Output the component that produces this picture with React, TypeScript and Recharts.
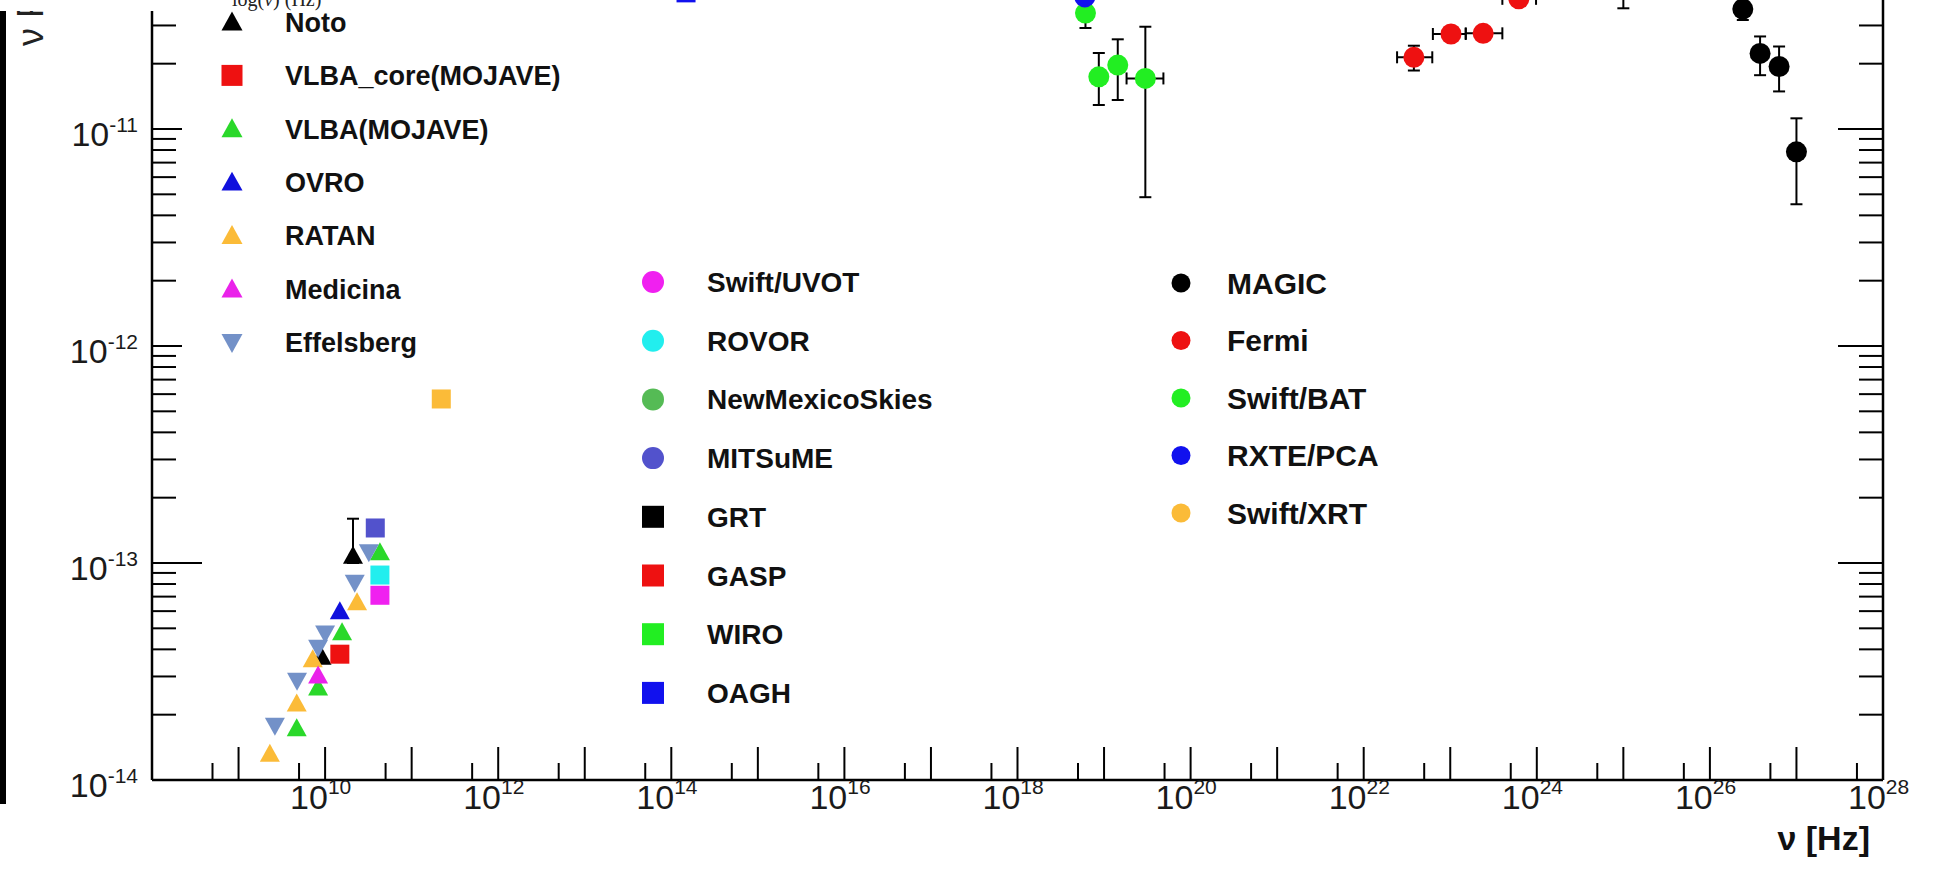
import React from 'react';
import { ScatterChart, Scatter, XAxis, YAxis, ErrorBar } from 'recharts';

// nu in Hz, f = nu F(nu); fLo/fHi and nuLo/nuHi are the error bar ends
const notoPoints = [
  { nu: 9.1e9, f: 3.7e-14 },
  { nu: 2.1e10, f: 1.08e-13, fLo: 1.0e-13, fHi: 1.6e-13 },
];
const vlbaCorePoints = [{ nu: 1.48e10, f: 3.8e-14 }];
const vlbaPoints = [
  { nu: 4.7e9, f: 1.73e-14 },
  { nu: 8.3e9, f: 2.67e-14 },
  { nu: 1.57e10, f: 4.8e-14 },
  { nu: 4.3e10, f: 1.12e-13 },
];
const ovroPoints = [{ nu: 1.48e10, f: 6.0e-14 }];
const ratanPoints = [
  { nu: 2.3e9, f: 1.32e-14 },
  { nu: 4.7e9, f: 2.25e-14 },
  { nu: 7.2e9, f: 3.6e-14 },
  { nu: 2.34e10, f: 6.6e-14 },
];
const medicinaPoints = [{ nu: 8.3e9, f: 3.03e-14 }];
const effelsbergPoints = [
  { nu: 2.63e9, f: 1.78e-14 },
  { nu: 4.74e9, f: 2.87e-14 },
  { nu: 8.3e9, f: 4.07e-14 },
  { nu: 1.0e10, f: 4.73e-14 },
  { nu: 2.2e10, f: 8.1e-14 },
  { nu: 3.2e10, f: 1.12e-13 },
];
const uvotPoints = [{ nu: 4.3e10, f: 7.1e-14 }];
const rovorPoints = [{ nu: 4.3e10, f: 8.8e-14 }];
const nmsPoints: any[] = [];
const mitsumePoints = [{ nu: 3.8e10, f: 1.45e-13 }];
const grtPoints: any[] = [];
const gaspPoints: any[] = [];
const wiroPoints: any[] = [];
const oaghPoints = [{ nu: 1.48e14, f: 4.24e-11 }];
const magicPoints = [
  { nu: 2.4e26, f: 3.57e-11, fLo: 3.18e-11, fHi: 4.0e-11 },
  { nu: 3.8e26, f: 2.23e-11, fLo: 1.77e-11, fHi: 2.67e-11 },
  { nu: 6.3e26, f: 1.94e-11, fLo: 1.49e-11, fHi: 2.4e-11 },
  { nu: 1.0e27, f: 7.85e-12, fLo: 4.5e-12, fHi: 1.12e-11 },
];
const fermiPoints = [
  { nu: 3.8e22, f: 2.14e-11, fLo: 1.86e-11, fHi: 2.42e-11, nuLo: 2.43e22, nuHi: 6.2e22 },
  { nu: 1.02e23, f: 2.74e-11, fLo: 2.62e-11, fHi: 2.86e-11, nuLo: 6.3e22, nuHi: 1.51e23 },
  { nu: 2.4e23, f: 2.76e-11, fLo: 2.64e-11, fHi: 2.88e-11, nuLo: 1.51e23, nuHi: 4.0e23 },
  { nu: 6.2e23, f: 3.98e-11, fLo: 3.7e-11, fHi: 4.3e-11, nuLo: 4.0e23, nuHi: 9.8e23 },
  { nu: 1.0e25, f: 5.6e-11, fLo: 3.6e-11, fHi: 8.0e-11 },
];
const batPoints = [
  { nu: 6.1e18, f: 3.42e-11, fLo: 2.92e-11, fHi: 4.0e-11 },
  { nu: 8.7e18, f: 1.74e-11, fLo: 1.29e-11, fHi: 2.24e-11 },
  { nu: 1.44e19, f: 1.97e-11, fLo: 1.36e-11, fHi: 2.59e-11 },
  { nu: 3.0e19, f: 1.71e-11, fLo: 4.85e-12, fHi: 2.96e-11, nuLo: 1.82e19, nuHi: 4.85e19 },
];
const rxtePoints = [{ nu: 6.0e18, f: 4.06e-11 }];
const xrtPoints = [{ nu: 2.2e11, f: 5.7e-13 }];

// axes
const xDecades = [1e8, 1e9, 1e10, 1e11, 1e12, 1e13, 1e14, 1e15, 1e16, 1e17, 1e18, 1e19, 1e20, 1e21, 1e22, 1e23, 1e24, 1e25, 1e26, 1e27, 1e28];
const xLabelExps = [10, 12, 14, 16, 18, 20, 22, 24, 26, 28];
const yDecades = [1e-14, 1e-13, 1e-12, 1e-11, 1e-10];
const yLabelExps = [-14, -13, -12, -11];

const xTicks = [...xDecades, ...xDecades.slice(0, -1).map((d) => 5 * d)];
const yTicks = [
  ...yDecades,
  ...yDecades.slice(0, -1).flatMap((d) => [2, 3, 4, 5, 6, 7, 8, 9].map((m) => m * d)),
];

type Kind = 'tri' | 'triDown' | 'square' | 'circle';

const series: { name: string; data: any[]; color: string; kind: Kind; dataKind?: Kind }[] = [
  { name: 'Noto', data: notoPoints, color: '#000000', kind: 'tri' },
  { name: 'VLBA_core(MOJAVE)', data: vlbaCorePoints, color: '#ee1111', kind: 'square' },
  { name: 'VLBA(MOJAVE)', data: vlbaPoints, color: '#2ad82a', kind: 'tri' },
  { name: 'OVRO', data: ovroPoints, color: '#1010dd', kind: 'tri' },
  { name: 'RATAN', data: ratanPoints, color: '#fbbb38', kind: 'tri' },
  { name: 'Medicina', data: medicinaPoints, color: '#ea22ea', kind: 'tri' },
  { name: 'Effelsberg', data: effelsbergPoints, color: '#7391c8', kind: 'triDown' },
  { name: 'Swift/UVOT', data: uvotPoints, color: '#f020f0', kind: 'circle', dataKind: 'square' },
  { name: 'ROVOR', data: rovorPoints, color: '#22eeee', kind: 'circle', dataKind: 'square' },
  { name: 'NewMexicoSkies', data: nmsPoints, color: '#55bb55', kind: 'circle' },
  { name: 'MITSuME', data: mitsumePoints, color: '#5252cc', kind: 'circle', dataKind: 'square' },
  { name: 'GRT', data: grtPoints, color: '#000000', kind: 'square' },
  { name: 'GASP', data: gaspPoints, color: '#ee1111', kind: 'square' },
  { name: 'WIRO', data: wiroPoints, color: '#22ee22', kind: 'square' },
  { name: 'OAGH', data: oaghPoints, color: '#1111ee', kind: 'square' },
  { name: 'MAGIC', data: magicPoints, color: '#000000', kind: 'circle' },
  { name: 'Fermi', data: fermiPoints, color: '#ee1111', kind: 'circle' },
  { name: 'Swift/BAT', data: batPoints, color: '#22ee22', kind: 'circle' },
  { name: 'RXTE/PCA', data: rxtePoints, color: '#1111ee', kind: 'circle' },
  { name: 'Swift/XRT', data: xrtPoints, color: '#fbbb38', kind: 'circle', dataKind: 'square' },
];

const legendBlocks = [
  { from: 0, to: 7, mx: 232, tx: 285, y0: 22, dy: 53.4, font: 27, size: 21 },
  { from: 7, to: 15, mx: 653, tx: 707, y0: 282, dy: 58.7, font: 28, size: 22 },
  { from: 15, to: 20, mx: 1181, tx: 1227, y0: 283, dy: 57.5, font: 30, size: 19 },
];

const FONT = '"Liberation Sans", Arial, Helvetica, sans-serif';

const toRows = (pts: any[]) =>
  pts.map((p) => ({
    nu: p.nu,
    f: p.f,
    ey: p.fLo !== undefined ? [p.f - p.fLo, p.fHi - p.f] : undefined,
    ex: p.nuLo !== undefined ? [p.nu - p.nuLo, p.nuHi - p.nu] : undefined,
  }));

const isDecade = (v: number) => {
  const l = Math.log10(v);
  return Math.abs(l - Math.round(l)) < 1e-6;
};

const Marker = ({ kind, cx, cy, color, s }: { kind: Kind; cx: number; cy: number; color: string; s: number }) => {
  const h = s / 2;
  if (kind === 'circle') return <circle cx={cx} cy={cy} r={h} fill={color} />;
  if (kind === 'square') return <rect x={cx - h} y={cy - h} width={s} height={s} fill={color} />;
  if (kind === 'tri')
    return <polygon points={`${cx},${cy - h} ${cx - h},${cy + h * 0.8} ${cx + h},${cy + h * 0.8}`} fill={color} />;
  return <polygon points={`${cx},${cy + h} ${cx - h},${cy - h * 0.8} ${cx + h},${cy - h * 0.8}`} fill={color} />;
};

const dataSize = (k: Kind) => (k === 'circle' ? 21 : k === 'square' ? 19 : 20);

const XTick = (props: any) => {
  const { x, y, payload } = props;
  const v = payload.value;
  const major = isDecade(v);
  const e = Math.round(Math.log10(v));
  return (
    <g>
      <line x1={x} y1={y} x2={x} y2={y - (major ? 33 : 17)} stroke="#000" strokeWidth={2} />
      {major && xLabelExps.includes(e) && (
        <text x={x - 35} y={y + 29} fontSize={34} fontFamily={FONT} fill="#1a1a1a">
          10
          <tspan fontSize={21} dy={-15}>
            {e}
          </tspan>
        </text>
      )}
    </g>
  );
};

const YTickLeft = (props: any) => {
  const { x, y, payload } = props;
  const v = payload.value;
  const major = isDecade(v);
  const e = Math.round(Math.log10(v));
  const len = major ? (e === -13 ? 50 : 30) : 24;
  return (
    <g>
      <line x1={x} y1={y} x2={x + len} y2={y} stroke="#000" strokeWidth={2} />
      {major && yLabelExps.includes(e) && (
        <text x={x - 14} y={y + 17} textAnchor="end" fontSize={34} fontFamily={FONT} fill="#1a1a1a">
          10
          <tspan fontSize={21} dy={-14}>
            {e}
          </tspan>
        </text>
      )}
    </g>
  );
};

const YTickRight = (props: any) => {
  const { x, y, payload } = props;
  const len = isDecade(payload.value) ? 45 : 24;
  return <line x1={x} y1={y} x2={x - len} y2={y} stroke="#000" strokeWidth={2} />;
};

const App = () => {
  return (
    <div style={{ position: 'absolute', left: 0, top: 0, width: 1939, height: 881, overflow: 'hidden', background: '#fff' }}>
      <div style={{ position: 'absolute', left: 0, top: -88 }}>
        <ScatterChart width={1939} height={969} margin={{ top: 0, right: 0, bottom: 0, left: 0 }}>
          <XAxis
            type="number"
            dataKey="nu"
            scale="log"
            domain={[1e8, 1e28]}
            allowDataOverflow
            ticks={xTicks}
            interval={0}
            tick={(p: any) => <XTick {...p} />}
            tickLine={false}
            tickSize={0}
            tickMargin={0}
            height={101}
            axisLine={{ stroke: '#000', strokeWidth: 2.5 }}
          />
          <YAxis
            yAxisId="l"
            type="number"
            dataKey="f"
            scale="log"
            domain={[1e-14, 1e-10]}
            allowDataOverflow
            ticks={yTicks}
            interval={0}
            tick={(p: any) => <YTickLeft {...p} />}
            tickLine={false}
            tickSize={0}
            tickMargin={0}
            width={152}
            axisLine={{ stroke: '#000', strokeWidth: 2.5 }}
          />
          <YAxis
            yAxisId="r"
            orientation="right"
            type="number"
            dataKey="f"
            scale="log"
            domain={[1e-14, 1e-10]}
            allowDataOverflow
            ticks={yTicks}
            interval={0}
            tick={(p: any) => <YTickRight {...p} />}
            tickLine={false}
            tickSize={0}
            tickMargin={0}
            width={56}
            axisLine={{ stroke: '#000', strokeWidth: 2.5 }}
          />
          {series.map((s) => (
            <Scatter
              key={s.name}
              name={s.name}
              yAxisId="l"
              data={toRows(s.data)}
              isAnimationActive={false}
              shape={(p: any) => (
                <Marker kind={s.dataKind || s.kind} cx={p.cx} cy={p.cy} color={s.color} s={dataSize(s.dataKind || s.kind)} />
              )}
            >
              <ErrorBar dataKey="ey" direction="y" width={6} stroke="#000" strokeWidth={2} isAnimationActive={false} />
              <ErrorBar dataKey="ex" direction="x" width={6} stroke="#000" strokeWidth={2} isAnimationActive={false} />
            </Scatter>
          ))}
        </ScatterChart>
      </div>
      <svg width={1939} height={881} style={{ position: 'absolute', left: 0, top: 0, pointerEvents: 'none' }}>
        {legendBlocks.map((b) =>
          series.slice(b.from, b.to).map((s, i) => {
            const cy = b.y0 + i * b.dy;
            return (
              <g key={s.name}>
                <Marker kind={s.kind} cx={b.mx} cy={cy} color={s.color} s={b.size} />
                <text x={b.tx} y={cy + b.font * 0.36} fontSize={b.font} fontWeight="bold" fontFamily={FONT} fill="#111">
                  {s.name}
                </text>
              </g>
            );
          })
        )}
        <text x={1870} y={850} textAnchor="end" fontSize={34} fontWeight="bold" fontFamily={FONT} fill="#111">
          ν [Hz]
        </text>
        <text transform="translate(43, 46) rotate(-90)" fontSize={36} fontFamily={FONT} fill="#222">
          ν Fν [erg cm⁻² s⁻¹]
        </text>
        <rect x={0} y={0} width={340} height={11} fill="#fff" />
        <text x={232} y={6} fontSize={20} fontFamily='"Liberation Serif", "DejaVu Serif", serif' fill="#222">
          log(<tspan fontStyle="italic">ν</tspan>) (Hz)
        </text>
        <rect x={0} y={11} width={6} height={793} fill="#000" />
      </svg>
    </div>
  );
};

export default App;
